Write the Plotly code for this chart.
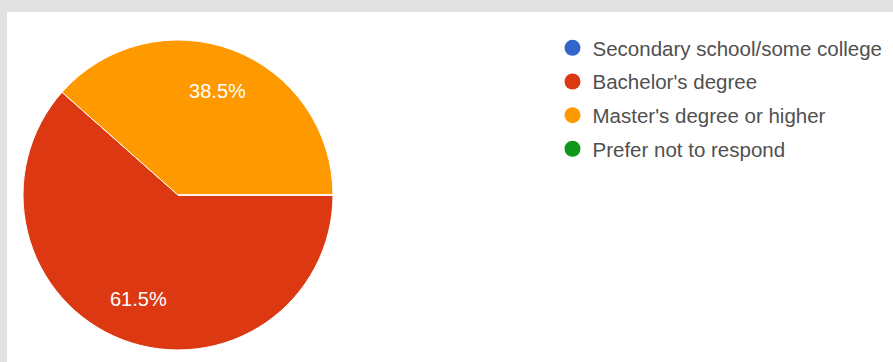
import plotly.graph_objects as go

categories = ["Secondary school/some college", "Bachelor's degree",
              "Master's degree or higher", "Prefer not to respond"]
responses = [0, 8, 5, 0]
colors = ["#3366cc", "#dc3912", "#ff9900", "#109618"]

W, H = 893, 362
ML, MT = 7, 12
PW, PH = W - ML, H - MT

fig = go.Figure()

# pie placed in a square pixel box inside the white panel
px0, px1 = 23, 333
py_top, py_bot = 40, 350
dom = dict(x=[(px0 - ML) / PW, (px1 - ML) / PW],
           y=[1 - (py_bot - MT) / PH, 1 - (py_top - MT) / PH])

fig.add_trace(go.Pie(
    labels=categories,
    values=responses,
    marker=dict(colors=colors, line=dict(color="white", width=1)),
    sort=False,
    direction="clockwise",
    rotation=90,
    textinfo="none",
    showlegend=False,
    hoverinfo="label+percent",
    domain=dom,
))

# transparent ring overlay used only to place the percentage labels
fig.add_trace(go.Pie(
    labels=categories,
    values=responses,
    hole=0.44,
    marker=dict(colors=["rgba(0,0,0,0)"] * len(categories),
                line=dict(color="rgba(0,0,0,0)", width=0)),
    sort=False,
    direction="clockwise",
    rotation=90,
    textposition="inside",
    insidetextorientation="horizontal",
    texttemplate="%{percent:.1%}",
    textfont=dict(family="Arial, Liberation Sans, sans-serif", size=20, color="white"),
    showlegend=False,
    hoverinfo="skip",
    domain=dom,
))

# legend entries with circular markers
for name, col in zip(categories, colors):
    fig.add_trace(go.Scatter(
        x=[None], y=[None], mode="markers", name=name,
        marker=dict(symbol="circle", size=16, color=col),
        legendgroup=name,
    ))

fig.update_layout(
    width=W, height=H,
    margin=dict(l=ML, r=0, t=MT, b=0, pad=0, autoexpand=False),
    paper_bgcolor="#e2e2e2",
    plot_bgcolor="white",
    xaxis=dict(visible=False),
    yaxis=dict(visible=False),
    legend=dict(
        x=(552.5 - ML) / PW, y=1 - (28 - MT) / PH, xanchor="left", yanchor="top",
        font=dict(family="Arial, Liberation Sans, sans-serif", size=20.5, color="#505050"),
        bgcolor="rgba(0,0,0,0)",
        tracegroupgap=4,
        itemclick=False, itemdoubleclick=False,
    ),
)

fig.write_html("out.html")
